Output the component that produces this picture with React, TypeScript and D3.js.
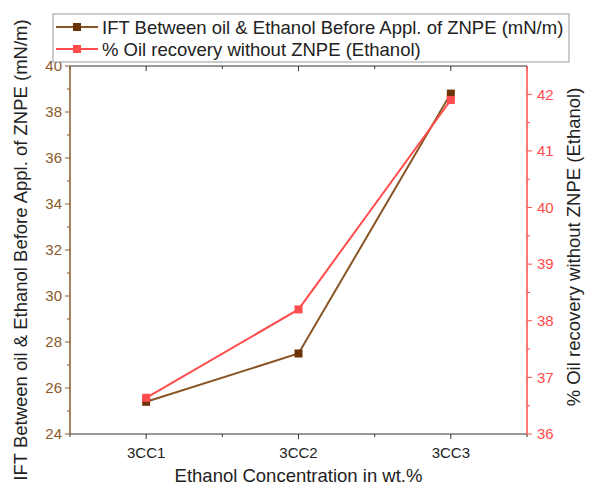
import React from "react";
import * as d3 from "d3";

// data
const categories = ["3CC1", "3CC2", "3CC3"];
const iftValues = [25.4, 27.5, 38.8];
const recoveryValues = [36.64, 38.2, 41.9];
const leftTicks = [24, 26, 28, 30, 32, 34, 36, 38, 40];
const rightTicks = [36, 37, 38, 39, 40, 41, 42];
const seriesNames = [
  "IFT Between oil & Ethanol Before Appl. of ZNPE (mN/m)",
  "% Oil recovery without ZNPE (Ethanol)",
];

const W = 590;
const H = 490;
const m = { left: 70, right: 63, top: 66, bottom: 56 };
const FONT = "'Liberation Sans', Arial, sans-serif";
const BROWN_LINE = "#8a5526";
const BROWN_MARK = "#6b3406";
const BROWN_AXIS = "#8b5a2b";
const RED = "#ff4c4c";

const App = () => {
  const x = d3.scaleLinear().domain([0.5, 3.5]).range([m.left, W - m.right]);
  const yL = d3.scaleLinear().domain([24, 40]).range([H - m.bottom, m.top]);
  const yR = d3.scaleLinear().domain([36, 42.5]).range([H - m.bottom, m.top]);

  const x0 = m.left;
  const x1 = W - m.right;
  const y0 = H - m.bottom;
  const y1 = m.top;

  const lineL = d3
    .line<number>()
    .x((_, i) => x(i + 1))
    .y((d) => yL(d));
  const lineR = d3
    .line<number>()
    .x((_, i) => x(i + 1))
    .y((d) => yR(d));

  const xMinor = d3.range(0.5, 3.51, 0.5);
  const leftMinor = d3.range(25, 40, 2);
  const rightMinor = d3.range(36.5, 42.5, 1);

  return (
    <svg width={W} height={H} style={{ position: "absolute", left: 0, top: 0 }} fontFamily={FONT}>
      <rect width={W} height={H} fill="white" />

      {/* top frame */}
      <line x1={x0} x2={x1} y1={y1} y2={y1} stroke="#333" strokeWidth={1} />
      {xMinor.map((t) => (
        <line key={"tt" + t} x1={x(t)} x2={x(t)} y1={y1} y2={y1 + (t % 1 === 0 ? 5 : 3)} stroke="#333" />
      ))}

      {/* bottom axis */}
      <line x1={x0} x2={x1} y1={y0} y2={y0} stroke="#333" strokeWidth={1} />
      {xMinor.map((t) => (
        <line key={"bt" + t} x1={x(t)} x2={x(t)} y1={y0} y2={y0 + (t % 1 === 0 ? 5 : 3)} stroke="#333" />
      ))}
      {categories.map((c, i) => (
        <text key={c} x={x(i + 1)} y={y0 + 24} textAnchor="middle" fontSize={15} fill="#222">
          {c}
        </text>
      ))}
      <text x={(x0 + x1) / 2} y={H - 8} textAnchor="middle" fontSize={18.5} fill="#222">
        Ethanol Concentration in wt.%
      </text>

      {/* left axis */}
      <line x1={x0} x2={x0} y1={y0} y2={y1} stroke={BROWN_AXIS} strokeWidth={1.5} />
      {leftTicks.map((t) => (
        <g key={"l" + t}>
          <line x1={x0 - 5} x2={x0} y1={yL(t)} y2={yL(t)} stroke={BROWN_AXIS} />
          <text x={x0 - 8} y={yL(t)} dy="0.35em" textAnchor="end" fontSize={15} fill={BROWN_AXIS}>
            {t}
          </text>
        </g>
      ))}
      {leftMinor.map((t) => (
        <line key={"lm" + t} x1={x0 - 3} x2={x0} y1={yL(t)} y2={yL(t)} stroke={BROWN_AXIS} />
      ))}
      <text
        transform={`translate(27,250) rotate(-90)`}
        textAnchor="middle"
        fontSize={18.5}
        fill="#222"
      >
        IFT Between oil &amp; Ethanol Before Appl. of ZNPE (mN/m)
      </text>

      {/* right axis */}
      <line x1={x1} x2={x1} y1={y0} y2={y1} stroke={RED} strokeWidth={1.5} />
      {rightTicks.map((t) => (
        <g key={"r" + t}>
          <line x1={x1} x2={x1 + 5} y1={yR(t)} y2={yR(t)} stroke={RED} />
          <text x={x1 + 10} y={yR(t)} dy="0.35em" textAnchor="start" fontSize={15} fill={RED}>
            {t}
          </text>
        </g>
      ))}
      {rightMinor.map((t) => (
        <line key={"rm" + t} x1={x1} x2={x1 + 3} y1={yR(t)} y2={yR(t)} stroke={RED} />
      ))}
      <text
        transform={`translate(580,247) rotate(-90)`}
        textAnchor="middle"
        fontSize={18.5}
        fill="#222"
      >
        % Oil recovery without ZNPE (Ethanol)
      </text>

      {/* series */}
      <path d={lineL(iftValues) || ""} fill="none" stroke={BROWN_LINE} strokeWidth={2} />
      {iftValues.map((v, i) => (
        <rect key={"pl" + i} x={x(i + 1) - 4} y={yL(v) - 4} width={8} height={8} fill={BROWN_MARK} />
      ))}
      <path d={lineR(recoveryValues) || ""} fill="none" stroke={RED} strokeWidth={2} />
      {recoveryValues.map((v, i) => (
        <rect key={"pr" + i} x={x(i + 1) - 4} y={yR(v) - 4} width={8} height={8} fill={RED} />
      ))}

      {/* legend */}
      <rect x={53} y={14} width={516} height={48} fill="white" stroke="#999" strokeWidth={1} />
      {seriesNames.map((name, i) => {
        const cy = 27 + i * 22;
        const col = i === 0 ? BROWN_LINE : RED;
        const mk = i === 0 ? BROWN_MARK : RED;
        return (
          <g key={name}>
            <line x1={56} x2={98} y1={cy} y2={cy} stroke={col} strokeWidth={2} />
            <rect x={73} y={cy - 4} width={8} height={8} fill={mk} />
            <text x={102} y={cy} dy="0.36em" fontSize={18.5} fill="#222">
              {name}
            </text>
          </g>
        );
      })}
    </svg>
  );
};

export default App;
